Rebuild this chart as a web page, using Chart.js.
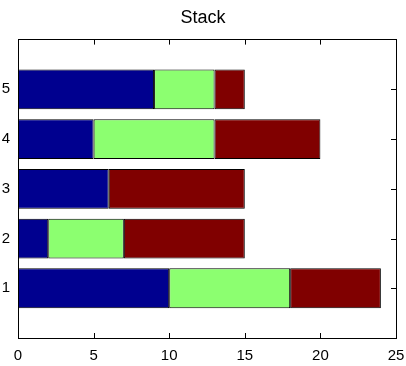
<!DOCTYPE html>
<html>
<head>
<meta charset="utf-8">
<script src="https://cdn.jsdelivr.net/npm/chart.js@4"></script>
<style>
  html, body { margin: 0; padding: 0; background: #fff; }
  #wrap { width: 406px; height: 366px; position: relative; }
</style>
</head>
<body>
<div id="wrap"><canvas id="stackChart"></canvas></div>
<script>
// categories, bottom to top
const categories = ["1", "2", "3", "4", "5"];
const blueValues = [10, 2, 6, 5, 9];
const greenValues = [8, 5, 0, 8, 4];
const redValues = [6, 8, 9, 7, 2];
const xTicks = [0, 5, 10, 15, 20, 25];

// pad one empty slot at each end so the axis runs 0..6 like the original
const labels = ["", ...categories, ""];
const pad = (arr) => [null, ...arr, null];

// inward tick marks on all four sides
const inwardTicks = {
  id: "inwardTicks",
  beforeDatasetsDraw(chart) {
    const { ctx, chartArea, scales } = chart;
    const len = 5;
    ctx.save();
    ctx.strokeStyle = "#000";
    ctx.lineWidth = 1;
    ctx.beginPath();
    xTicks.forEach((v) => {
      const px = Math.round(scales.x.getPixelForValue(v)) + 0.5;
      ctx.moveTo(px, chartArea.bottom);
      ctx.lineTo(px, chartArea.bottom - len);
      ctx.moveTo(px, chartArea.top);
      ctx.lineTo(px, chartArea.top + len);
    });
    categories.forEach((c, i) => {
      const py = Math.round(scales.y.getPixelForValue(i + 1)) + 0.5;
      ctx.moveTo(chartArea.left, py);
      ctx.lineTo(chartArea.left + len, py);
      ctx.moveTo(chartArea.right, py);
      ctx.lineTo(chartArea.right - len, py);
    });
    ctx.stroke();
    ctx.restore();
  },
};

const font = { family: "'Liberation Sans', Arial, sans-serif", size: 15 };
const noGrid = { display: false, drawTicks: false };
const border = { display: true, color: "#000", width: 1 };

// fixed axis sizes, no extra room for overhanging labels
const fixSize = (w, h) => (s) => {
  if (w !== null) s.width = w;
  if (h !== null) s.height = h;
  s.paddingLeft = 0;
  s.paddingRight = 0;
  s.paddingTop = 0;
  s.paddingBottom = 0;
};

function barSet(label, values, color) {
  return {
    label,
    data: pad(values),
    backgroundColor: color,
    borderColor: "#000",
    borderWidth: 1,
    borderSkipped: false,
    categoryPercentage: 1,
    barPercentage: 0.8,
  };
}

new Chart(document.getElementById("stackChart"), {
  type: "bar",
  data: {
    labels,
    datasets: [
      barSet("a", blueValues, "#00008f"),
      barSet("b", greenValues, "#8cff70"),
      barSet("c", redValues, "#800000"),
    ],
  },
  plugins: [inwardTicks],
  options: {
    indexAxis: "y",
    responsive: true,
    maintainAspectRatio: false,
    animation: false,
    layout: { padding: 0 },
    plugins: {
      legend: { display: false },
      tooltip: { enabled: false },
      title: {
        display: true,
        text: "Stack",
        color: "#000",
        font: { family: font.family, size: 18, weight: "normal" },
        padding: { top: 7, bottom: 11 },
      },
    },
    scales: {
      x: {
        type: "linear",
        position: "bottom",
        stacked: true,
        min: 0,
        max: 25,
        grid: noGrid,
        border,
        ticks: { stepSize: 5, color: "#000", font, padding: 9, maxRotation: 0 },
        afterFit: fixSize(null, 28),
      },
      x2: {
        type: "linear",
        position: "top",
        min: 0,
        max: 25,
        display: true,
        grid: noGrid,
        border,
        ticks: { display: false },
        afterFit: fixSize(null, 0),
      },
      y: {
        type: "category",
        position: "left",
        stacked: true,
        reverse: true,
        offset: false,
        grid: noGrid,
        border,
        ticks: { color: "#000", font, padding: 8, autoSkip: false },
        afterFit: fixSize(18, null),
      },
      y2: {
        type: "category",
        position: "right",
        labels,
        reverse: true,
        offset: false,
        display: true,
        grid: noGrid,
        border,
        ticks: { display: false },
        afterFit: fixSize(10, null),
      },
    },
  },
});
</script>
</body>
</html>
